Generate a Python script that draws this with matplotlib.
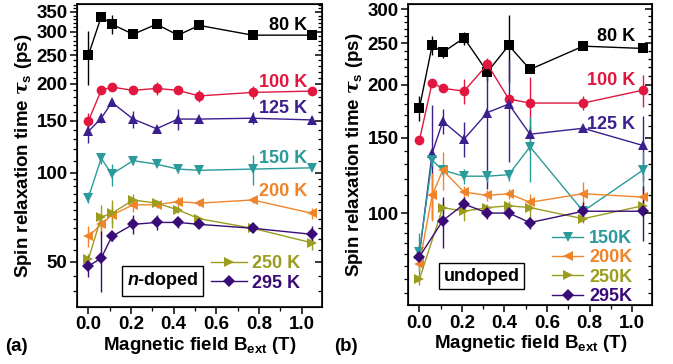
import numpy as np
import matplotlib
matplotlib.use('Agg')
import matplotlib.pyplot as plt
from matplotlib.ticker import FixedLocator, FixedFormatter, NullFormatter

plt.rcParams['font.family'] = ['Liberation Sans', 'DejaVu Sans']
plt.rcParams['font.weight'] = 'bold'
plt.rcParams['axes.labelweight'] = 'bold'
plt.rcParams['mathtext.fontset'] = 'custom'
plt.rcParams['mathtext.rm'] = 'Liberation Sans:bold'
plt.rcParams['mathtext.it'] = 'DejaVu Serif:italic'
plt.rcParams['mathtext.bf'] = 'Liberation Sans:bold'
plt.rcParams['mathtext.sf'] = 'Liberation Sans:italic:bold'

# 磁场 (T)
b_field = [0.0, 0.06, 0.11, 0.21, 0.32, 0.42, 0.52, 0.77, 1.05]

# (a) n-doped, 自旋弛豫时间 (ps)
a_80 = [250, 337, 318, 294, 318, 292, 315, 292, 292]
a_80_err = [52, 4, 24, 6, 6, 4, 6, 4, 4]
a_100 = [150, 190, 195, 190, 193, 190, 182, 187, 189]
a_100_err = [9, 3, 4, 3, 10, 4, 9, 9, 5]
a_125 = [138, 153, 173, 152, 141, 152, 152, 153, 151]
a_125_err = [12, 6, 4, 10, 3, 12, 3, 7, 5]
a_150 = [82.5, 112, 99, 110, 107, 103, 102, 103, 104]
a_150_err = [3.5, 5, 8.5, 4, 2, 3, 3, 12, 2]
a_200 = [61, 67, 72, 78, 78, 80, 79, 81, 73]
a_200_err = [5, 6, 5, 4, 2, 3, 2, 2, 3]
a_250 = [51, 71, 73, 81, 79, 75, 70, 65, 58]
a_250_err = [2, 7, 8, 4, 2, 2, 1, 2, 3]
a_295 = [48.4, 51.5, 61, 67, 68, 68, 67, 65, 62]
a_295_err = [4, 12, 2, 5, 4, 3, 2, 2, 4]

# (b) undoped
b_80 = [176, 247, 238, 257, 214, 247, 217, 246, 243]
b_80_err = [12, 13, 7, 9, 10, 44, 4, 4, 5]
b_100 = [148, 202, 196, 193, 223, 185, 181, 181, 194]
b_100_err = [3, 3, 3, 13, 8, 3, 27, 7, 17]
b_125 = [80, 138, 164, 149, 172, 180, 153, 158, 144]
b_125_err = [4, 41, 11, 14, 58, 48, 7, 3, 25]
b_150 = [81, 133, 126, 122, 122, 123, 143, 101, 126]
b_150_err = [9, 4, 4, 5, 4, 4, 25, 3, 13]
b_200 = [76, 110, 126, 112, 110, 111, 106, 111, 109]
b_200_err = [3, 14, 13, 4, 3, 3, 5, 7, 5]
b_250 = [70, np.nan, 103, 101, 103, 104, 103, 97, 104]
b_250_err = [2, 0, 3, 5, 2, 3, 5, 2, 3]
b_295 = [79, np.nan, 96, 105, 100, 100, 95, 101, 101]
b_295_err = [4, 0, 13, 4, 3, 3, 3, 5, 15]

a_yticks = [50, 100, 150, 200, 250, 300, 350]
b_yticks = [100, 150, 200, 250, 300]
xticks = [0.0, 0.2, 0.4, 0.6, 0.8, 1.0]

c80 = 'black'
c100 = '#e2173f'
c125 = '#3b1f8e'
c150 = '#2a9a9a'
c200 = '#f0842a'
c250 = '#9c9c1e'
c295 = '#3a0c78'

fig = plt.figure(figsize=(6.73, 3.64), dpi=100)
ax_a = fig.add_axes([0.1149, 0.1574, 0.3632, 0.8315])
ax_b = fig.add_axes([0.6067, 0.1620, 0.3626, 0.8270])


def draw(ax, y, err, color, marker, ms):
    x = np.array(b_field)
    y = np.array(y, dtype=float)
    e = np.array(err, dtype=float)
    m = ~np.isnan(y)
    eb = ax.errorbar(x[m], y[m], yerr=e[m], color=color, marker=marker, ms=ms,
                     lw=1.0, elinewidth=1.0, capsize=2.5, capthick=1.0, mew=0)
    return eb[0]


def style(ax, ylim, majors, minors):
    ax.set_yscale('log')
    ax.set_xlim(-0.052, 1.095)
    ax.set_ylim(*ylim)
    ax.yaxis.set_major_locator(FixedLocator(majors))
    ax.yaxis.set_minor_locator(FixedLocator(minors))
    ax.yaxis.set_major_formatter(FixedFormatter([str(v) for v in majors]))
    ax.yaxis.set_minor_formatter(NullFormatter())
    ax.set_xticks(xticks)
    ax.set_xticklabels(['%.1f' % v for v in xticks])
    ax.xaxis.set_minor_locator(FixedLocator(np.arange(0.0, 1.1, 0.1)))
    ax.tick_params(which='major', length=5, width=1.1, labelsize=13.5, pad=2)
    ax.tick_params(which='minor', length=3, width=0.9)
    ax.tick_params(axis='x', which='both', top=False)
    for s in ax.spines.values():
        s.set_linewidth(1.2)
    # 右侧刻度朝内
    tw = ax.twinx()
    tw.set_yscale('log')
    tw.set_ylim(*ylim)
    tw.yaxis.set_major_locator(FixedLocator(majors))
    tw.yaxis.set_minor_locator(FixedLocator(minors))
    tw.yaxis.set_major_formatter(NullFormatter())
    tw.yaxis.set_minor_formatter(NullFormatter())
    tw.tick_params(which='major', direction='in', length=5, width=1.1)
    tw.tick_params(which='minor', direction='in', length=3, width=0.9)
    ax.set_xlabel(r'Magnetic field B$_{\mathrm{ext}}$ (T)', fontsize=13.5, labelpad=1)
    ax.set_ylabel(r'Spin relaxation time $\tau_{\mathrm{s}}$ (ps)', fontsize=13.5, labelpad=2)


# ---------- (a) ----------
draw(ax_a, a_80, a_80_err, c80, 's', 6.5)
draw(ax_a, a_100, a_100_err, c100, 'o', 7)
draw(ax_a, a_125, a_125_err, c125, '^', 7.5)
draw(ax_a, a_150, a_150_err, c150, 'v', 7.5)
draw(ax_a, a_200, a_200_err, c200, '<', 7.5)
h250 = draw(ax_a, a_250, a_250_err, c250, '>', 7.5)
h295 = draw(ax_a, a_295, a_295_err, c295, 'D', 6)

a_minor = [v for v in range(40, 100, 5) if v != 50] + \
          [v for v in range(110, 380, 10) if v not in a_yticks]
style(ax_a, (35.3, 372), a_yticks, a_minor)

lbl = dict(fontsize=13, fontweight='bold', ha='right', va='center',
           transform=ax_a.transAxes)
ax_a.text(0.94, 0.930, '80 K', color=c80, **lbl)
ax_a.text(0.94, 0.742, '100 K', color=c100, **lbl)
ax_a.text(0.94, 0.655, '125 K', color=c125, **lbl)
ax_a.text(0.94, 0.490, '150 K', color=c150, **lbl)
ax_a.text(0.94, 0.380, '200 K', color=c200, **lbl)
ax_a.legend([h250, h295], ['250 K', '295 K'], loc='lower left',
            bbox_to_anchor=(0.545, 0.05), frameon=False, fontsize=13,
            handlelength=2.0, handletextpad=0.3, labelspacing=0.12,
            borderpad=0, borderaxespad=0, labelcolor=[c250, c295])
ax_a.text(0.35, 0.085, r'$\mathsf{n}$-doped', fontsize=13, fontweight='bold',
          ha='center', va='center', transform=ax_a.transAxes,
          bbox=dict(boxstyle='square,pad=0.25', fc='white', ec='black', lw=1.0))

# ---------- (b) ----------
draw(ax_b, b_80, b_80_err, c80, 's', 6.5)
draw(ax_b, b_100, b_100_err, c100, 'o', 7)
draw(ax_b, b_125, b_125_err, c125, '^', 7.5)
h150 = draw(ax_b, b_150, b_150_err, c150, 'v', 7.5)
h200 = draw(ax_b, b_200, b_200_err, c200, '<', 7.5)
h250b = draw(ax_b, b_250, b_250_err, c250, '>', 7.5)
h295b = draw(ax_b, b_295, b_295_err, c295, 'D', 6)

b_minor = [v for v in range(65, 100, 5)] + \
          [v for v in range(110, 310, 10) if v not in b_yticks]
style(ax_b, (60.9, 308.8), b_yticks, b_minor)

lbl['transform'] = ax_b.transAxes
ax_b.text(0.93, 0.893, '80 K', color=c80, **lbl)
ax_b.text(0.93, 0.745, '100 K', color=c100, **lbl)
ax_b.text(0.93, 0.600, '125 K', color=c125, **lbl)
ax_b.legend([h150, h200, h250b, h295b], ['150K', '200K', '250K', '295K'],
            loc='lower left', bbox_to_anchor=(0.59, 0.0), frameon=False,
            fontsize=13, handlelength=1.7, handletextpad=0.35,
            labelspacing=0.13, borderpad=0, borderaxespad=0,
            labelcolor=[c150, c200, c250, c295])
ax_b.text(0.30, 0.096, 'undoped', fontsize=13, fontweight='bold',
          ha='center', va='center', transform=ax_b.transAxes,
          bbox=dict(boxstyle='square,pad=0.25', fc='white', ec='black', lw=1.0))

fig.text(0.008, 0.035, '(a)', fontsize=13.5, fontweight='bold')
fig.text(0.497, 0.035, '(b)', fontsize=13.5, fontweight='bold')

fig.savefig('out.png', dpi=100)
